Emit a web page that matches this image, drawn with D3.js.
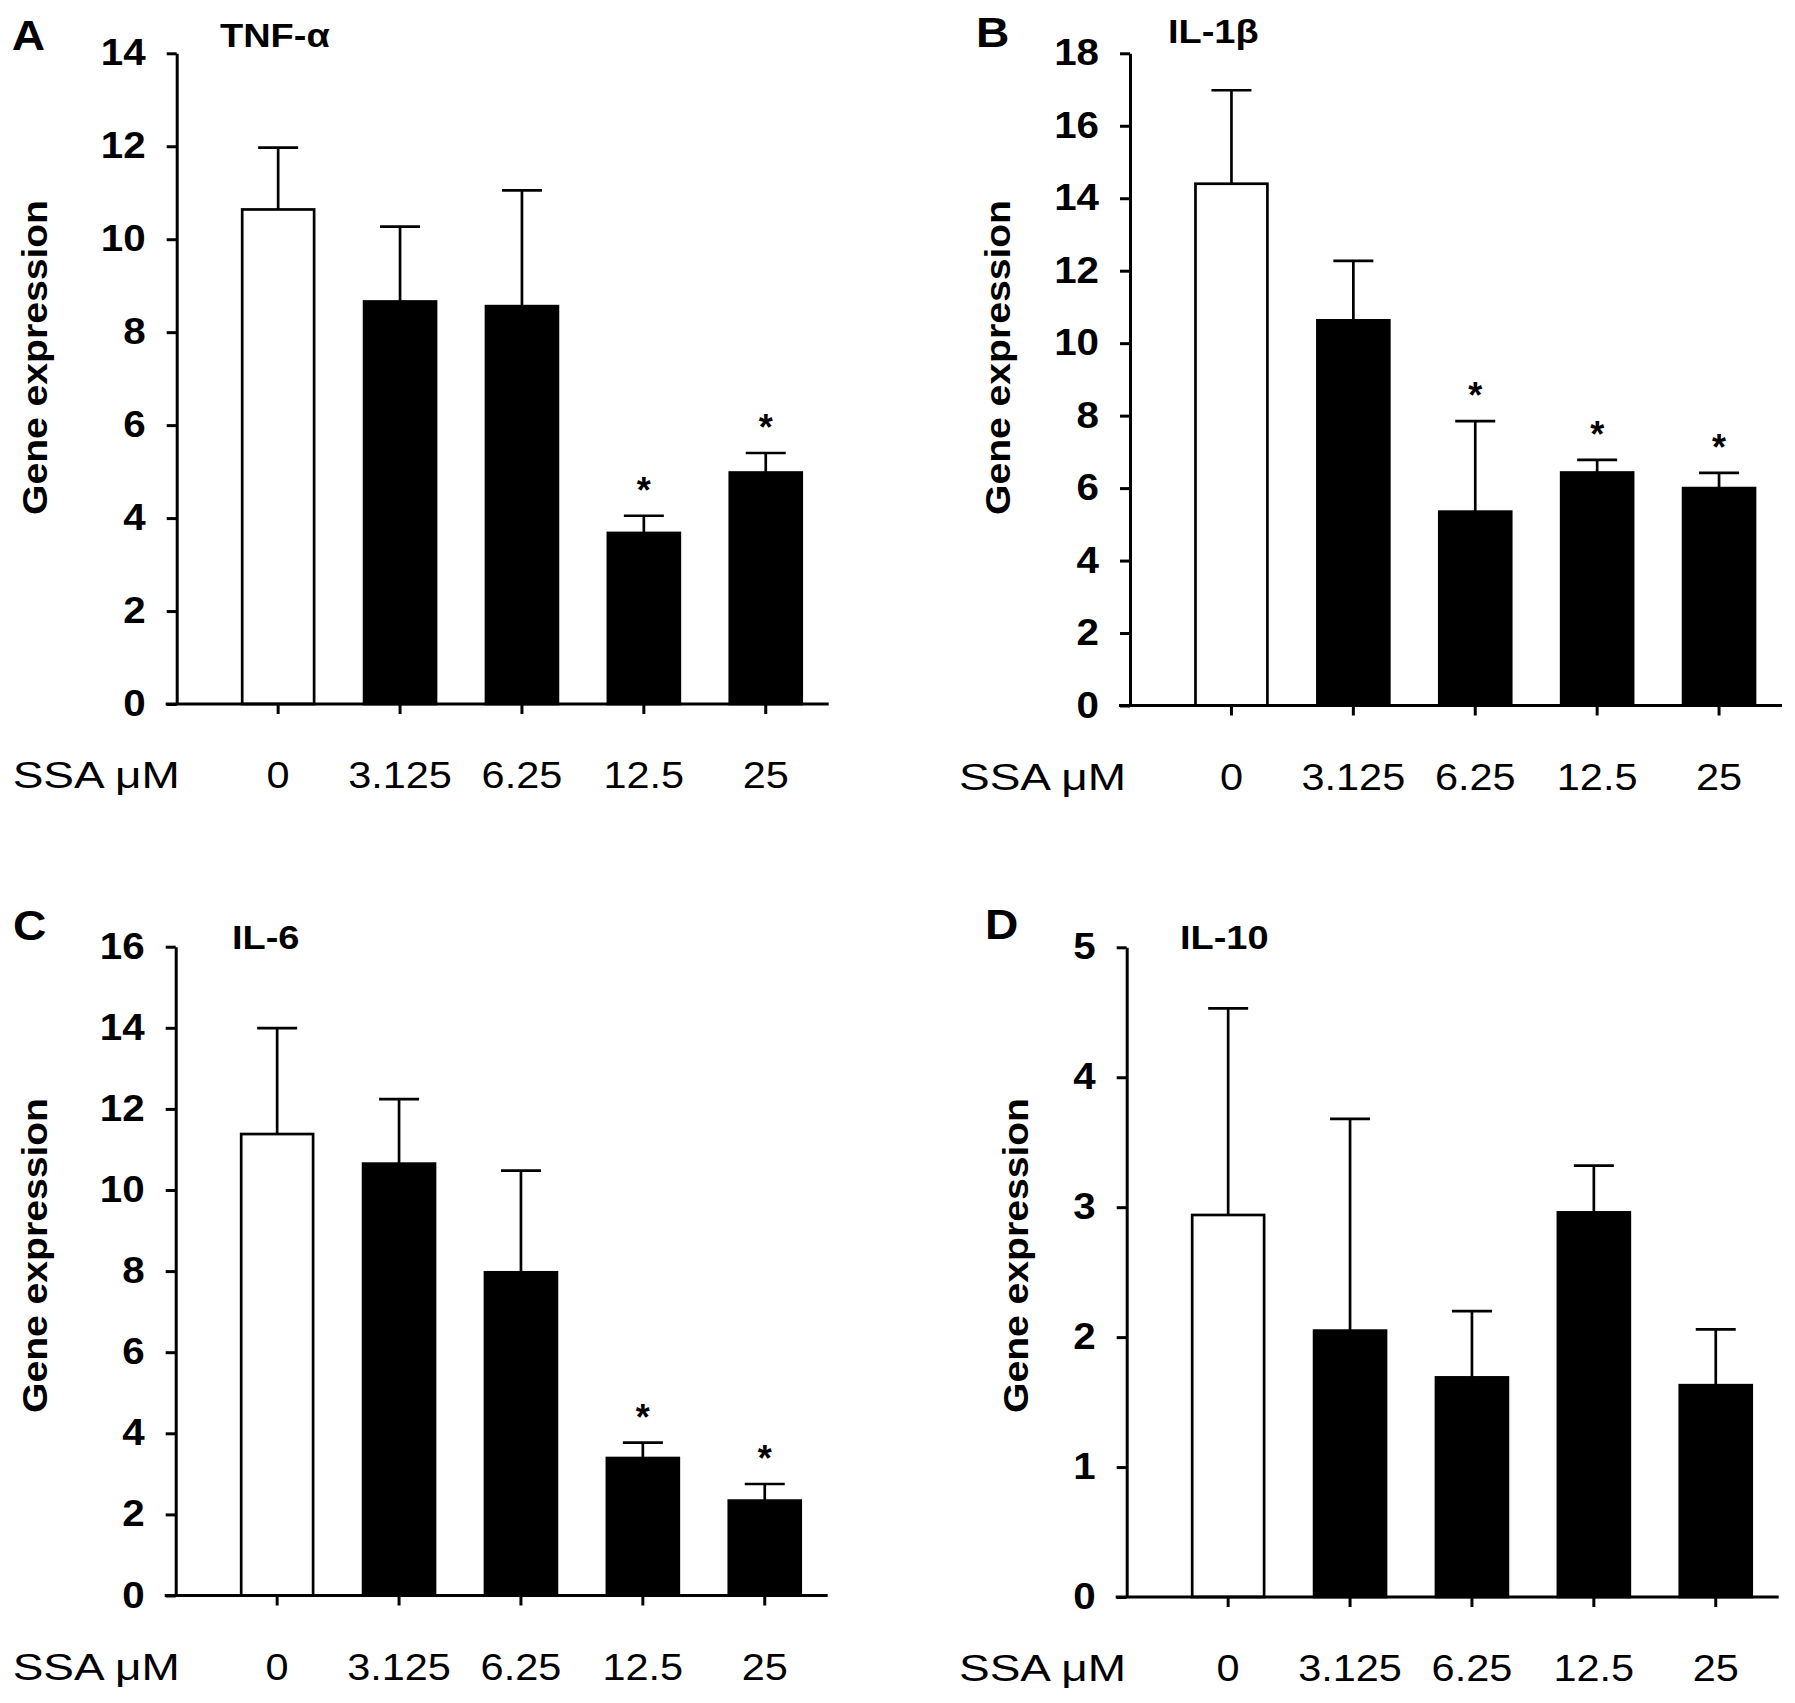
<!DOCTYPE html>
<html>
<head>
<meta charset="utf-8">
<script src="https://cdn.jsdelivr.net/npm/d3@7"></script>
<style>
  body { margin: 0; background: #fff; }
  text { font-family: "Liberation Sans", Arial, sans-serif; fill: #000; }
</style>
</head>
<body>
<script>
// doses on the x axis
const doses = ["0", "3.125", "6.25", "12.5", "25"];

// TNF-alpha
const tnfMean = [10.64, 8.66, 8.56, 3.68, 4.98];
const tnfSem = [1.33, 1.61, 2.49, 0.37, 0.42];
const tnfSig = [false, false, false, true, true];

// IL-1beta
const il1Mean = [14.40, 10.63, 5.35, 6.43, 6.00];
const il1Sem = [2.58, 1.64, 2.50, 0.35, 0.42];
const il1Sig = [false, false, true, true, true];

// IL-6
const il6Mean = [11.38, 10.65, 7.97, 3.39, 2.34];
const il6Sem = [2.61, 1.59, 2.51, 0.38, 0.41];
const il6Sig = [false, false, false, true, true];

// IL-10
const il10Mean = [2.94, 2.05, 1.69, 2.96, 1.63];
const il10Sem = [1.59, 1.63, 0.51, 0.36, 0.43];
const il10Sig = [false, false, false, false, false];

const yMax = [14, 18, 16, 5];
const yStep = [2, 2, 2, 1];

// layout of the four panels
const panels = [
    {letter: "A", title: "TNF-\u03b1", mean: tnfMean, sem: tnfSem, sig: tnfSig, max: yMax[0], step: yStep[0],
     ax: 176.7, top: 53.3, bottom: 704, lx: 11.7, ly: 50, tx: 220, ty: 46.7, gx: 46.7, gy: 200, sx: 12.7},
    {letter: "B", title: "IL-1\u03b2", mean: il1Mean, sem: il1Sem, sig: il1Sig, max: yMax[1], step: yStep[1],
     ax: 1130, top: 53.3, bottom: 705.5, lx: 976, ly: 46.7, tx: 1168, ty: 43, gx: 1010, gy: 200, sx: 959},
    {letter: "C", title: "IL-6", mean: il6Mean, sem: il6Sem, sig: il6Sig, max: yMax[2], step: yStep[2],
     ax: 175.7, top: 946.7, bottom: 1595.5, lx: 13, ly: 940, tx: 232, ty: 949, gx: 46.7, gy: 1098, sx: 12.7},
    {letter: "D", title: "IL-10", mean: il10Mean, sem: il10Sem, sig: il10Sig, max: yMax[3], step: yStep[3],
     ax: 1126.7, top: 947.3, bottom: 1597, lx: 985, ly: 939, tx: 1180, ty: 949, gx: 1028.3, gy: 1098, sx: 959}
];

const svg = d3.select("body").append("svg")
    .attr("width", 1795)
    .attr("height", 1703);

svg.append("rect").attr("width", 1795).attr("height", 1703).attr("fill", "#fff");

// widen text a bit, the original font runs wider than Liberation Sans
function stretch(sel, k) {
    sel.each(function () {
        const w = this.getComputedTextLength();
        d3.select(this).attr("textLength", w * k).attr("lengthAdjust", "spacingAndGlyphs");
    });
}

panels.forEach(p => {
    const y = d3.scaleLinear().domain([0, p.max]).range([p.bottom, p.top]);
    const x = d3.scaleBand().domain(doses)
        .range([p.ax + 40.5, p.ax + 650])
        .paddingInner(0.41)
        .paddingOuter(0.205);

    const rows = doses.map((d, i) => ({dose: d, mean: p.mean[i], sem: p.sem[i], sig: p.sig[i], i: i}));
    const g = svg.append("g");

    // error bars (upper only)
    g.selectAll(".err")
        .data(rows)
        .enter()
        .append("line")
        .attr("x1", d => x(d.dose) + x.bandwidth() / 2)
        .attr("x2", d => x(d.dose) + x.bandwidth() / 2)
        .attr("y1", d => y(d.mean))
        .attr("y2", d => y(d.mean + d.sem))
        .attr("stroke", "#000")
        .attr("stroke-width", 2.7);

    g.selectAll(".cap")
        .data(rows)
        .enter()
        .append("line")
        .attr("x1", d => x(d.dose) + x.bandwidth() / 2 - 20)
        .attr("x2", d => x(d.dose) + x.bandwidth() / 2 + 20)
        .attr("y1", d => y(d.mean + d.sem))
        .attr("y2", d => y(d.mean + d.sem))
        .attr("stroke", "#000")
        .attr("stroke-width", 2.7);

    g.selectAll(".bar")
        .data(rows)
        .enter()
        .append("rect")
        .attr("x", d => x(d.dose))
        .attr("y", d => y(d.mean))
        .attr("width", x.bandwidth())
        .attr("height", d => y(0) - y(d.mean))
        .attr("fill", d => d.i === 0 ? "#fff" : "#000")
        .attr("stroke", "#000")
        .attr("stroke-width", 2.7);

    g.selectAll(".star")
        .data(rows.filter(d => d.sig))
        .enter()
        .append("text")
        .attr("x", d => x(d.dose) + x.bandwidth() / 2)
        .attr("y", d => y(d.mean + d.sem) - 13)
        .attr("text-anchor", "middle")
        .attr("font-size", 36)
        .attr("font-weight", "bold")
        .text("*");

    // y axis
    const yAxis = g.append("g")
        .attr("transform", `translate(${p.ax},0)`)
        .call(d3.axisLeft(y)
            .tickValues(d3.range(0, p.max + p.step / 2, p.step))
            .tickFormat(d3.format("d"))
            .tickSize(10)
            .tickSizeOuter(0)
            .tickPadding(21));
    yAxis.select(".domain").attr("stroke", "#000").attr("stroke-width", 3);
    yAxis.selectAll(".tick line").attr("stroke", "#000").attr("stroke-width", 3);
    yAxis.selectAll(".tick text")
        .attr("font-family", "Liberation Sans, Arial, sans-serif")
        .attr("font-size", 36)
        .attr("font-weight", "bold")
        .attr("fill", "#000")
        .call(stretch, 1.12);

    // x axis
    g.append("line")
        .attr("x1", p.ax - 11)
        .attr("x2", p.ax + 652)
        .attr("y1", y(0))
        .attr("y2", y(0))
        .attr("stroke", "#000")
        .attr("stroke-width", 3);

    g.selectAll(".xtick")
        .data(doses)
        .enter()
        .append("line")
        .attr("x1", d => x(d) + x.bandwidth() / 2)
        .attr("x2", d => x(d) + x.bandwidth() / 2)
        .attr("y1", y(0))
        .attr("y2", y(0) + 10)
        .attr("stroke", "#000")
        .attr("stroke-width", 3);

    g.selectAll(".xlab")
        .data(doses)
        .enter()
        .append("text")
        .attr("x", d => x(d) + x.bandwidth() / 2)
        .attr("y", y(0) + 84)
        .attr("text-anchor", "middle")
        .attr("font-size", 37)
        .text(d => d)
        .call(stretch, 1.12);

    g.append("text")
        .attr("x", p.sx)
        .attr("y", y(0) + 84)
        .attr("font-size", 37)
        .attr("textLength", 167)
        .attr("lengthAdjust", "spacingAndGlyphs")
        .text("SSA \u03bcM");

    // y label
    g.append("text")
        .attr("transform", `translate(${p.gx},${p.gy}) rotate(-90)`)
        .attr("text-anchor", "end")
        .attr("font-size", 35)
        .attr("font-weight", "bold")
        .attr("textLength", 315)
        .attr("lengthAdjust", "spacingAndGlyphs")
        .text("Gene expression");

    // panel letter and gene name
    g.append("text")
        .attr("x", p.lx)
        .attr("y", p.ly)
        .attr("font-size", 42)
        .attr("font-weight", "bold")
        .text(p.letter)
        .call(stretch, 1.1);

    g.append("text")
        .attr("x", p.tx)
        .attr("y", p.ty)
        .attr("font-size", 33)
        .attr("font-weight", "bold")
        .text(p.title)
        .call(stretch, 1.15);
});
</script>
</body>
</html>
